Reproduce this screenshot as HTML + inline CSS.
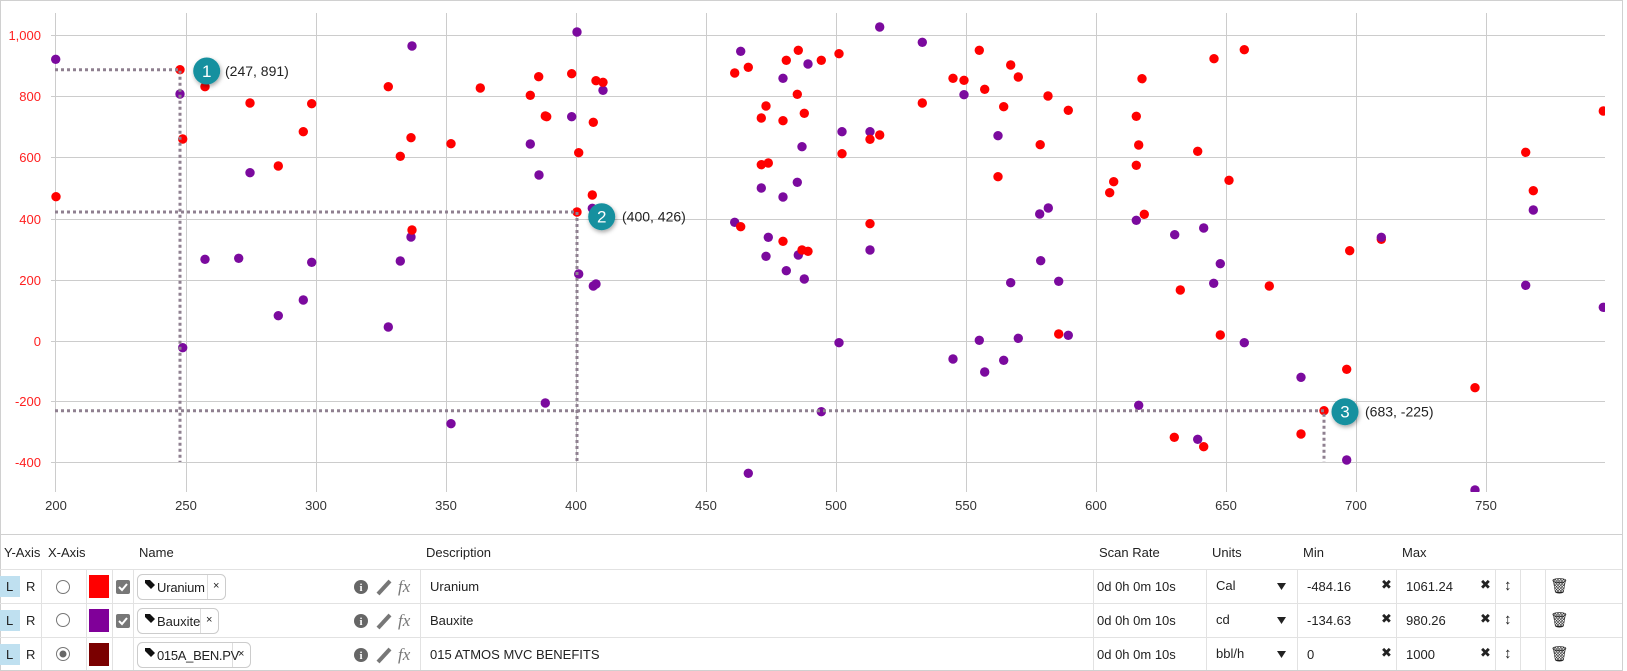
<!DOCTYPE html>
<html><head><meta charset="utf-8">
<style>
body{margin:0;background:#fff;font-family:"Liberation Sans","DejaVu Sans",sans-serif;}
#wrap{position:relative;width:1627px;height:671px;overflow:hidden;}
svg{position:absolute;left:0;top:0;}
.t{position:absolute;font-size:13px;color:#222;white-space:nowrap;}
</style></head><body><div id="wrap">
<svg width="1627" height="671" viewBox="0 0 1627 671">
<rect x="0.5" y="0.5" width="1622" height="670" fill="none" stroke="#d0d0d0"/>
<line x1="0" y1="534.5" x2="1622" y2="534.5" stroke="#d0d0d0"/>
<g stroke="#cccccc" stroke-width="1">
<line x1="51" y1="35.5" x2="1605" y2="35.5"/><line x1="51" y1="96.5" x2="1605" y2="96.5"/><line x1="51" y1="157.5" x2="1605" y2="157.5"/><line x1="51" y1="219.5" x2="1605" y2="219.5"/><line x1="51" y1="280.5" x2="1605" y2="280.5"/><line x1="51" y1="341.5" x2="1605" y2="341.5"/><line x1="51" y1="401.5" x2="1605" y2="401.5"/><line x1="51" y1="462.5" x2="1605" y2="462.5"/>
<line x1="55.5" y1="13" x2="55.5" y2="492"/><line x1="186.5" y1="13" x2="186.5" y2="492"/><line x1="316.5" y1="13" x2="316.5" y2="492"/><line x1="446.5" y1="13" x2="446.5" y2="492"/><line x1="576.5" y1="13" x2="576.5" y2="492"/><line x1="706.5" y1="13" x2="706.5" y2="492"/><line x1="836.5" y1="13" x2="836.5" y2="492"/><line x1="966.5" y1="13" x2="966.5" y2="492"/><line x1="1096.5" y1="13" x2="1096.5" y2="492"/><line x1="1226.5" y1="13" x2="1226.5" y2="492"/><line x1="1356.5" y1="13" x2="1356.5" y2="492"/><line x1="1486.5" y1="13" x2="1486.5" y2="492"/>
</g>
<g font-size="13" fill="#ff2020" text-anchor="end" font-family="Liberation Sans,sans-serif">
<text x="41" y="40">1,000</text><text x="41" y="101">800</text><text x="41" y="162">600</text><text x="41" y="224">400</text><text x="41" y="285">200</text><text x="41" y="346">0</text><text x="41" y="406">-200</text><text x="41" y="467">-400</text>
</g>
<g font-size="13" fill="#333" text-anchor="middle" font-family="Liberation Sans,sans-serif">
<text x="56" y="510">200</text><text x="186" y="510">250</text><text x="316" y="510">300</text><text x="446" y="510">350</text><text x="576" y="510">400</text><text x="706" y="510">450</text><text x="836" y="510">500</text><text x="966" y="510">550</text><text x="1096" y="510">600</text><text x="1226" y="510">650</text><text x="1356" y="510">700</text><text x="1486" y="510">750</text>
</g>
<defs><clipPath id="pc"><rect x="51" y="13" width="1554" height="479"/></clipPath>
<filter id="sh" x="-50%" y="-50%" width="200%" height="200%"><feDropShadow dx="1" dy="2" stdDeviation="2" flood-color="#000" flood-opacity="0.35"/></filter></defs>
<g clip-path="url(#pc)">
<g fill="#7b0a9e">
<circle cx="55.7" cy="59.3" r="4.7"/><circle cx="180" cy="94" r="4.7"/><circle cx="250" cy="172.7" r="4.7"/><circle cx="412" cy="46" r="4.7"/><circle cx="411" cy="237" r="4.7"/><circle cx="205" cy="259.3" r="4.7"/><circle cx="238.7" cy="258.3" r="4.7"/><circle cx="311.7" cy="262.3" r="4.7"/><circle cx="400.3" cy="261" r="4.7"/><circle cx="303.3" cy="300" r="4.7"/><circle cx="278.3" cy="315.7" r="4.7"/><circle cx="388.3" cy="327" r="4.7"/><circle cx="182.7" cy="347.7" r="4.7"/>
<circle cx="577" cy="32" r="4.7"/><circle cx="740.7" cy="51.3" r="4.7"/><circle cx="808" cy="64" r="4.7"/><circle cx="603" cy="90.3" r="4.7"/><circle cx="783" cy="78.3" r="4.7"/><circle cx="571.7" cy="116.7" r="4.7"/><circle cx="530.3" cy="144" r="4.7"/><circle cx="802" cy="146.7" r="4.7"/><circle cx="539" cy="175" r="4.7"/><circle cx="761.3" cy="188" r="4.7"/><circle cx="797.3" cy="182.3" r="4.7"/><circle cx="783" cy="197" r="4.7"/><circle cx="592.3" cy="208.3" r="4.7"/><circle cx="734.7" cy="222.3" r="4.7"/><circle cx="768.3" cy="237.3" r="4.7"/><circle cx="766" cy="256.3" r="4.7"/><circle cx="798.3" cy="255" r="4.7"/><circle cx="786.3" cy="270.7" r="4.7"/><circle cx="804.3" cy="279" r="4.7"/><circle cx="578.7" cy="274" r="4.7"/><circle cx="593.3" cy="286" r="4.7"/><circle cx="596" cy="284" r="4.7"/><circle cx="545.3" cy="403" r="4.7"/><circle cx="451" cy="423.7" r="4.7"/><circle cx="821.3" cy="411.7" r="4.7"/><circle cx="748.3" cy="473.3" r="4.7"/>
<circle cx="879.7" cy="27" r="4.7"/><circle cx="922.3" cy="42.3" r="4.7"/><circle cx="964" cy="94.7" r="4.7"/><circle cx="842" cy="131.7" r="4.7"/><circle cx="870" cy="131.7" r="4.7"/><circle cx="998" cy="135.7" r="4.7"/><circle cx="1039.7" cy="214" r="4.7"/><circle cx="1048.3" cy="208" r="4.7"/><circle cx="1136.3" cy="220.3" r="4.7"/><circle cx="870" cy="250" r="4.7"/><circle cx="1174.7" cy="234.7" r="4.7"/><circle cx="1203.7" cy="228" r="4.7"/><circle cx="1220.3" cy="263.7" r="4.7"/><circle cx="1040.7" cy="260.7" r="4.7"/><circle cx="1010.7" cy="282.7" r="4.7"/><circle cx="1058.7" cy="281.3" r="4.7"/><circle cx="1213.7" cy="283.3" r="4.7"/><circle cx="839" cy="342.7" r="4.7"/><circle cx="979.3" cy="340.3" r="4.7"/><circle cx="1018.3" cy="338.3" r="4.7"/><circle cx="1068.3" cy="335.3" r="4.7"/><circle cx="953" cy="359" r="4.7"/><circle cx="1003.7" cy="360.3" r="4.7"/><circle cx="984.7" cy="372" r="4.7"/><circle cx="1138.7" cy="405.3" r="4.7"/><circle cx="1197.7" cy="439.3" r="4.7"/>
<circle cx="1244.3" cy="342.7" r="4.7"/><circle cx="1301" cy="377.3" r="4.7"/><circle cx="1346.7" cy="460" r="4.7"/><circle cx="1475" cy="490" r="4.7"/><circle cx="1533.3" cy="210" r="4.7"/><circle cx="1525.7" cy="285.3" r="4.7"/><circle cx="1603.3" cy="307.3" r="4.7"/>
</g>
<g fill="#ff0000">
<circle cx="180" cy="69.7" r="4.7"/><circle cx="205" cy="86.7" r="4.7"/><circle cx="250" cy="103" r="4.7"/><circle cx="311.7" cy="103.7" r="4.7"/><circle cx="303.3" cy="131.7" r="4.7"/><circle cx="182.7" cy="139" r="4.7"/><circle cx="278.3" cy="166" r="4.7"/><circle cx="56" cy="196.7" r="4.7"/><circle cx="388.3" cy="86.7" r="4.7"/><circle cx="411" cy="137.7" r="4.7"/><circle cx="400.3" cy="156.3" r="4.7"/><circle cx="412" cy="230" r="4.7"/>
<circle cx="798.3" cy="50.3" r="4.7"/><circle cx="786.3" cy="60.3" r="4.7"/><circle cx="821.3" cy="60.3" r="4.7"/><circle cx="734.7" cy="73" r="4.7"/><circle cx="748.3" cy="67.3" r="4.7"/><circle cx="480.3" cy="88" r="4.7"/><circle cx="538.7" cy="76.7" r="4.7"/><circle cx="571.7" cy="73.7" r="4.7"/><circle cx="596" cy="80.7" r="4.7"/><circle cx="603" cy="82.3" r="4.7"/><circle cx="530.3" cy="95.3" r="4.7"/><circle cx="797.3" cy="94.3" r="4.7"/><circle cx="766" cy="106" r="4.7"/><circle cx="761.3" cy="118" r="4.7"/><circle cx="783" cy="120.7" r="4.7"/><circle cx="804.3" cy="113.3" r="4.7"/><circle cx="545.3" cy="116" r="4.7"/><circle cx="546.7" cy="116.7" r="4.7"/><circle cx="593.3" cy="122.3" r="4.7"/><circle cx="451" cy="143.7" r="4.7"/><circle cx="578.7" cy="152.7" r="4.7"/><circle cx="761.3" cy="164.7" r="4.7"/><circle cx="768.3" cy="163" r="4.7"/><circle cx="592.3" cy="195" r="4.7"/><circle cx="577" cy="212" r="4.7"/><circle cx="740.7" cy="226.7" r="4.7"/><circle cx="783" cy="241.3" r="4.7"/><circle cx="802" cy="250" r="4.7"/><circle cx="808" cy="251.3" r="4.7"/>
<circle cx="839" cy="53.7" r="4.7"/><circle cx="979.3" cy="50.3" r="4.7"/><circle cx="1010.7" cy="65" r="4.7"/><circle cx="1018.3" cy="77" r="4.7"/><circle cx="953" cy="78.3" r="4.7"/><circle cx="964" cy="80.3" r="4.7"/><circle cx="984.7" cy="89.3" r="4.7"/><circle cx="922.3" cy="103" r="4.7"/><circle cx="1003.7" cy="106.7" r="4.7"/><circle cx="1048" cy="96" r="4.7"/><circle cx="1068.3" cy="110.3" r="4.7"/><circle cx="1142" cy="78.7" r="4.7"/><circle cx="1214" cy="58.7" r="4.7"/><circle cx="1136.3" cy="116.3" r="4.7"/><circle cx="870" cy="139.3" r="4.7"/><circle cx="879.7" cy="135" r="4.7"/><circle cx="1040.2" cy="144.7" r="4.7"/><circle cx="842" cy="153.7" r="4.7"/><circle cx="1138.7" cy="145" r="4.7"/><circle cx="1197.7" cy="151.3" r="4.7"/><circle cx="1136.3" cy="165.3" r="4.7"/><circle cx="998" cy="176.7" r="4.7"/><circle cx="1113.7" cy="181.7" r="4.7"/><circle cx="1109.7" cy="192.7" r="4.7"/><circle cx="1144.3" cy="214.3" r="4.7"/><circle cx="870" cy="223.7" r="4.7"/><circle cx="1180.3" cy="290" r="4.7"/><circle cx="1058.7" cy="334" r="4.7"/><circle cx="1220.3" cy="335" r="4.7"/><circle cx="1174.3" cy="437.3" r="4.7"/><circle cx="1203.7" cy="446.7" r="4.7"/>
<circle cx="1244.3" cy="49.7" r="4.7"/><circle cx="1229" cy="180.3" r="4.7"/><circle cx="1269.3" cy="286" r="4.7"/><circle cx="1346.7" cy="369.3" r="4.7"/><circle cx="1349.7" cy="250.7" r="4.7"/><circle cx="1381.3" cy="239.3" r="4.7"/><circle cx="1475" cy="387.7" r="4.7"/><circle cx="1324" cy="410.7" r="4.7"/><circle cx="1301" cy="434" r="4.7"/><circle cx="1525.7" cy="152.3" r="4.7"/><circle cx="1533.3" cy="190.7" r="4.7"/><circle cx="1603.3" cy="111" r="4.7"/>
</g>
<circle cx="1381.3" cy="237.3" r="4.7" fill="#7b0a9e"/>
</g>
<g stroke="#8f8090" stroke-width="3" stroke-dasharray="3 3" fill="none">
<path d="M55 69.7H180V462"/><path d="M55 212H577V462"/><path d="M55 410.7H1324V462"/>
</g>
<g filter="url(#sh)" fill="#13909f">
<circle cx="206.7" cy="71" r="13.5"/><circle cx="601.7" cy="216.7" r="13.5"/><circle cx="1345" cy="411.7" r="13.5"/>
</g>
<g fill="#fff" font-size="17" text-anchor="middle" font-family="Liberation Sans,sans-serif">
<text x="206.7" y="77">1</text><text x="601.7" y="222.7">2</text><text x="1345" y="417.7">3</text>
</g>
<g fill="#222" font-size="14" font-family="Liberation Sans,sans-serif">
<text x="225" y="76">(247, 891)</text><text x="622" y="221.5">(400, 426)</text><text x="1365" y="416.5">(683, -225)</text>
</g>
<g stroke="#e2e2e2" stroke-width="1">
<line x1="0" y1="569.5" x2="1622" y2="569.5"/><line x1="0" y1="603.5" x2="1622" y2="603.5"/><line x1="0" y1="637.5" x2="1622" y2="637.5"/>
<line x1="41.5" y1="569" x2="41.5" y2="670"/><line x1="86.5" y1="569" x2="86.5" y2="670"/><line x1="112.5" y1="569" x2="112.5" y2="670"/><line x1="133.5" y1="569" x2="133.5" y2="670"/><line x1="420.5" y1="569" x2="420.5" y2="670"/><line x1="1093.5" y1="569" x2="1093.5" y2="670"/><line x1="1206.5" y1="569" x2="1206.5" y2="670"/><line x1="1297.5" y1="569" x2="1297.5" y2="670"/><line x1="1396.5" y1="569" x2="1396.5" y2="670"/><line x1="1495.5" y1="569" x2="1495.5" y2="670"/><line x1="1520.5" y1="569" x2="1520.5" y2="670"/><line x1="1545.5" y1="569" x2="1545.5" y2="670"/>
</g>
<g fill="#bfe0f0"><rect x="0" y="576" width="20" height="21"/><rect x="0" y="610" width="20" height="21"/><rect x="0" y="644" width="20" height="21"/></g>
<g fill="none" stroke="#777" stroke-width="1"><circle cx="63" cy="587" r="6.5"/><circle cx="63" cy="620" r="6.5"/><circle cx="63" cy="654" r="6.5"/></g>
<circle cx="63" cy="654" r="3.5" fill="#666"/>
<rect x="89" y="575" width="20" height="23" fill="#ff0000"/><rect x="89" y="609" width="20" height="23" fill="#800099"/><rect x="89" y="643" width="20" height="23" fill="#7a0000"/>
<g fill="#777"><rect x="116" y="580" width="14" height="14" rx="2"/><rect x="116" y="614" width="14" height="14" rx="2"/></g>
<g stroke="#fff" stroke-width="2" fill="none"><path d="M119 587l3 3 5-6"/><path d="M119 621l3 3 5-6"/></g>
<g fill="#fff" stroke="#ccc"><rect x="137.5" y="574.5" width="88" height="25" rx="5"/><rect x="137.5" y="608.5" width="81" height="25" rx="5"/><rect x="137.5" y="642.5" width="113" height="25" rx="5"/></g>
<g stroke="#ddd"><line x1="207.5" y1="575" x2="207.5" y2="599"/><line x1="200.5" y1="609" x2="200.5" y2="633"/><line x1="232.5" y1="643" x2="232.5" y2="667"/></g>
<g fill="#111"><path d="M145 580h5l5 5-4 4-6-6z"/><path d="M145 614h5l5 5-4 4-6-6z"/><path d="M145 648h5l5 5-4 4-6-6z"/></g>
<g fill="#666"><circle cx="361" cy="587" r="7"/><circle cx="361" cy="621" r="7"/><circle cx="361" cy="655" r="7"/></g>
<g fill="#fff" font-size="11" font-weight="bold" text-anchor="middle" font-family="Liberation Serif,serif"><text x="361" y="591">i</text><text x="361" y="625">i</text><text x="361" y="659">i</text></g>
<g stroke="#777" stroke-width="4" stroke-linecap="butt"><line x1="378" y1="594" x2="390" y2="581"/><line x1="378" y1="628" x2="390" y2="615"/><line x1="378" y1="662" x2="390" y2="649"/></g>
<g fill="#222"><path d="M1277 583h9l-4.5 7z"/><path d="M1277 617h9l-4.5 7z"/><path d="M1277 651h9l-4.5 7z"/></g>
</svg>
<div class="t" style="left:4px;top:545px">Y-Axis</div>
<div class="t" style="left:48px;top:545px">X-Axis</div>
<div class="t" style="left:139px;top:545px">Name</div>
<div class="t" style="left:426px;top:545px">Description</div>
<div class="t" style="left:1099px;top:545px">Scan Rate</div>
<div class="t" style="left:1212px;top:545px">Units</div>
<div class="t" style="left:1303px;top:545px">Min</div>
<div class="t" style="left:1402px;top:545px">Max</div>

<div class="t" style="left:6px;top:579px">L</div><div class="t" style="left:26px;top:579px">R</div>
<div class="t" style="left:6px;top:613px">L</div><div class="t" style="left:26px;top:613px">R</div>
<div class="t" style="left:6px;top:647px">L</div><div class="t" style="left:26px;top:647px">R</div>

<div class="t" style="left:157px;top:580px;font-size:13px;letter-spacing:-0.2px">Uranium</div><div class="t" style="left:213px;top:580px;font-size:11px">×</div>
<div class="t" style="left:157px;top:614px;font-size:13px">Bauxite</div><div class="t" style="left:206px;top:614px;font-size:11px">×</div>
<div class="t" style="left:157px;top:648px;font-size:13px;letter-spacing:-0.3px">015A_BEN.PV</div><div class="t" style="left:238px;top:648px;font-size:11px">×</div>

<div class="t" style="left:398px;top:577px;font-size:17px;color:#777;font-family:'Liberation Serif',serif;font-style:italic">fx</div>
<div class="t" style="left:398px;top:611px;font-size:17px;color:#777;font-family:'Liberation Serif',serif;font-style:italic">fx</div>
<div class="t" style="left:398px;top:645px;font-size:17px;color:#777;font-family:'Liberation Serif',serif;font-style:italic">fx</div>

<div class="t" style="left:430px;top:579px">Uranium</div>
<div class="t" style="left:430px;top:613px">Bauxite</div>
<div class="t" style="left:430px;top:647px">015 ATMOS MVC BENEFITS</div>

<div class="t" style="left:1097px;top:579px">0d 0h 0m 10s</div>
<div class="t" style="left:1097px;top:613px">0d 0h 0m 10s</div>
<div class="t" style="left:1097px;top:647px">0d 0h 0m 10s</div>

<div class="t" style="left:1216px;top:578px">Cal</div>
<div class="t" style="left:1216px;top:612px">cd</div>
<div class="t" style="left:1216px;top:646px">bbl/h</div>

<div class="t" style="left:1307px;top:579px">-484.16</div><div class="t" style="left:1381px;top:577px;font-weight:bold">✖</div>
<div class="t" style="left:1307px;top:613px">-134.63</div><div class="t" style="left:1381px;top:611px;font-weight:bold">✖</div>
<div class="t" style="left:1307px;top:647px">0</div><div class="t" style="left:1381px;top:645px;font-weight:bold">✖</div>

<div class="t" style="left:1406px;top:579px">1061.24</div><div class="t" style="left:1480px;top:577px;font-weight:bold">✖</div>
<div class="t" style="left:1406px;top:613px">980.26</div><div class="t" style="left:1480px;top:611px;font-weight:bold">✖</div>
<div class="t" style="left:1406px;top:647px">1000</div><div class="t" style="left:1480px;top:645px;font-weight:bold">✖</div>

<div class="t" style="left:1504px;top:577px;font-size:15px;font-weight:bold">↕</div>
<div class="t" style="left:1504px;top:611px;font-size:15px;font-weight:bold">↕</div>
<div class="t" style="left:1504px;top:645px;font-size:15px;font-weight:bold">↕</div>

<div class="t" style="left:1550px;top:577px;font-size:15px">🗑</div>
<div class="t" style="left:1550px;top:611px;font-size:15px">🗑</div>
<div class="t" style="left:1550px;top:645px;font-size:15px">🗑</div>
</div></body></html>
